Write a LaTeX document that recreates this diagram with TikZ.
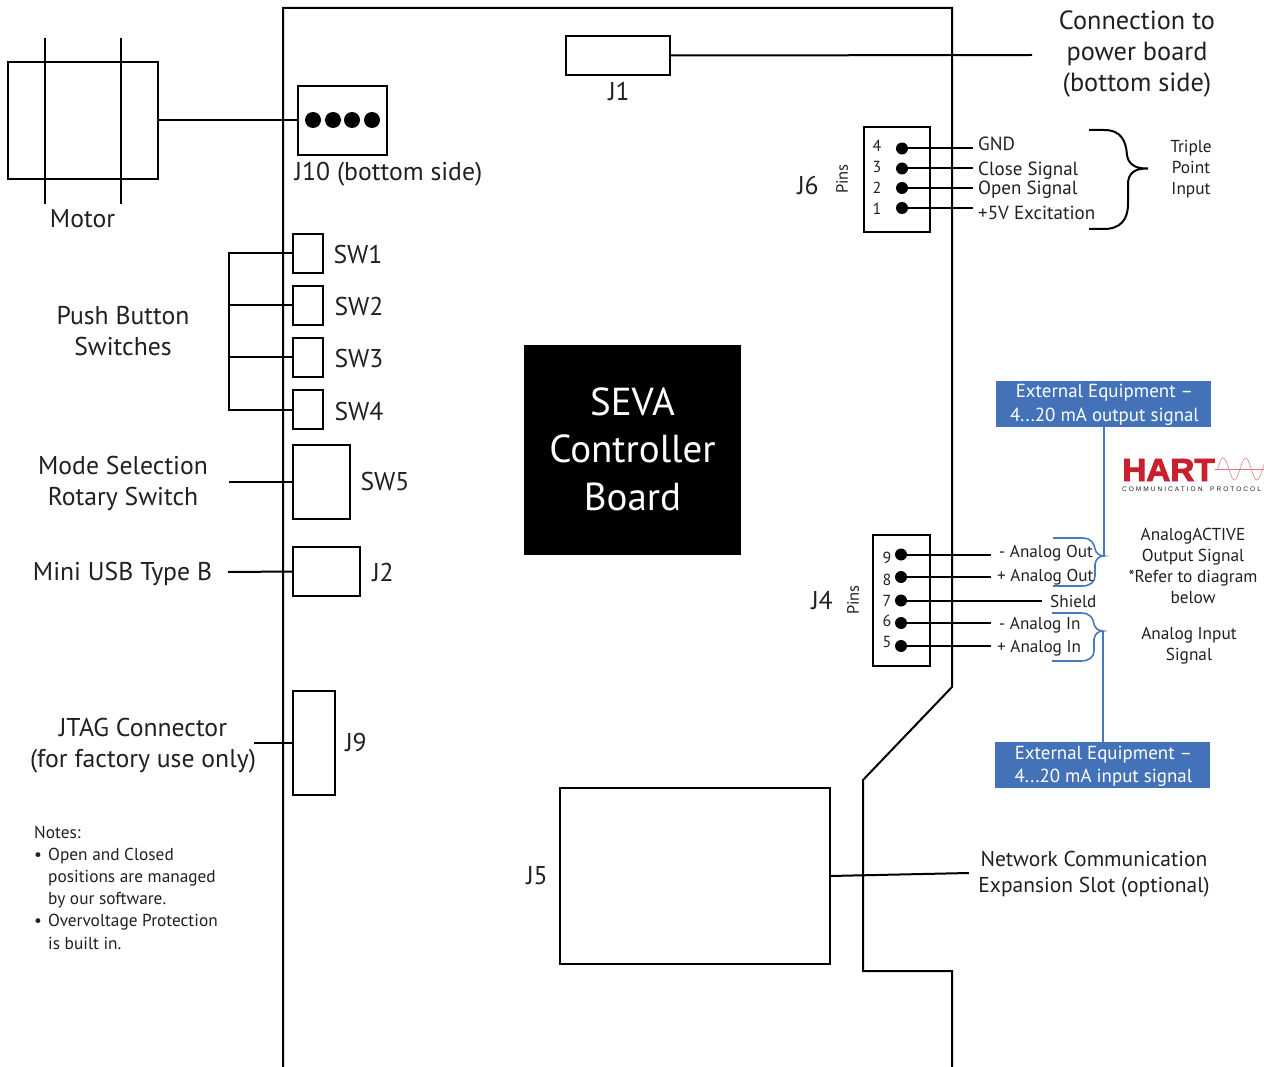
\documentclass[tikz,border=0pt]{standalone}
\usepackage{fontspec}
\setmainfont{PT Sans}
\newfontfamily\hartfont[BoldFeatures={FakeBold=3}]{Liberation Sans}
\newfontfamily\hartsubfont[LetterSpace=30]{Liberation Sans}
\definecolor{bluefill}{HTML}{4472B8}
\definecolor{bluewire}{HTML}{4A78BE}
\definecolor{hartred}{HTML}{C8202E}
\definecolor{ink}{HTML}{231F20}
\newcommand{\pbox}[5]{%
  \pgfmathsetmacro{\cxv}{(#2+#4)/2}\pgfmathsetmacro{\cyv}{(#3+#5)/2}%
  \pgfmathsetmacro{\wv}{#4-#2}\pgfmathsetmacro{\hv}{#5-#3}%
  \node[part,minimum width=\wv pt,minimum height=\hv pt] (#1) at (\cxv,\cyv) {};}
\tikzset{
  part/.style={draw=black,line width=2pt,inner sep=0,outer sep=0,rectangle},
  wire/.style={draw=black,line width=2pt},
  thinwire/.style={draw=black,line width=1.2pt},
  bluewire/.style={draw=bluewire,line width=1.6pt},
  pin/.style={circle,fill=black,inner sep=0,outer sep=0,minimum size=12pt},
  big/.style={text=ink,font=\fontsize{25.7}{31}\selectfont,align=center,inner sep=0},
  mid/.style={text=ink,font=\fontsize{19}{24}\selectfont,align=left,inner sep=0},
  small/.style={text=ink,font=\fontsize{17.3}{21}\selectfont,align=center,inner sep=0},
  anlab/.style={text=ink,font=\fontsize{17.2}{21}\selectfont,inner sep=0,anchor=west},
  pinslab/.style={text=ink,font=\fontsize{16.5}{21}\selectfont,inner sep=0,rotate=90},
  num/.style={text=ink,font=\fontsize{16}{20}\selectfont,inner sep=0},
  bluebox/.style={fill=bluefill,minimum width=215pt,minimum height=46pt,inner sep=0,outer sep=0},
  bluetext/.style={text=white,font=\fontsize{18.9}{23.5}\selectfont,align=center,inner sep=0},
}
\begin{document}
\begin{tikzpicture}[x=1pt,y=-1pt]
\useasboundingbox (0,0) rectangle (1264,1067);
% board outline
\draw[wire,line join=miter] (283,1067) -- (283,8) -- (952,8) -- (952,687) -- (863,780) -- (863,971) -- (952,971) -- (952,1067);
% motor
\pbox{motor}{8}{62}{158}{179}
\coordinate (mt1) at (45,38); \coordinate (mb1) at (45,204);
\coordinate (mt2) at (121,38); \coordinate (mb2) at (121,204);
\draw[thinwire] (mt1) -- (mb1);
\draw[thinwire] (mt2) -- (mb2);
\node[big] (motorlbl) at (82.5,219) {Motor};
% J10
\pbox{jten}{298}{86}{387}{155}
\node[pin,minimum size=16pt] (ja) at (313,120) {};
\node[pin,minimum size=16pt] (jb) at (333,120) {};
\node[pin,minimum size=16pt] (jc) at (352,120) {};
\node[pin,minimum size=16pt] (jd) at (372,120) {};
\draw[wire] (motor.east) -- (jten.west);
\node[big] (jtenlbl) at (388.5,174) {J10 (bottom side)};
% J1
\pbox{jone}{566}{36}{670}{75}
\coordinate (jonefree) at (1032,55);
\draw[wire] (jone.east) -- (jonefree);
\node[big] (jonelbl) at (619,91) {J1};
\node[big,font=\fontsize{26.3}{31}\selectfont] (power) at (1137,54) {Connection to\\power board\\(bottom side)};
% push buttons
\pbox{swa}{293}{234}{323}{273}
\pbox{swb}{293}{286}{323}{325}
\pbox{swc}{293}{338}{323}{377}
\pbox{swd}{293}{390}{323}{429}
\coordinate (busa) at (229,253.5);
\coordinate (busb) at (229,305.5);
\coordinate (busc) at (229,357.5);
\coordinate (busd) at (229,409.5);
\draw[wire,line cap=rect] (busa) -- (busd);
\draw[wire] (busa) -- (swa.west);
\draw[wire] (busb) -- (swb.west);
\draw[wire] (busc) -- (swc.west);
\draw[wire] (busd) -- (swd.west);
\node[big] (swalbl) at (358,255) {SW1};
\node[big] (swblbl) at (359,307) {SW2};
\node[big] (swclbl) at (359,359) {SW3};
\node[big] (swdlbl) at (359,412) {SW4};
\node[big] (pushlbl) at (123,331) {Push Button\\Switches};
% SW5
\pbox{swe}{293}{445}{350}{519}
\coordinate (swefree) at (229,482);
\draw[wire] (swefree) -- (swe.west);
\node[big] (swelbl) at (385,482) {SW5};
\node[big] (modelbl) at (123,483.5) {Mode Selection\\Rotary Switch};
% J2
\pbox{jtwo}{293}{547}{360}{596}
\coordinate (jtwofree) at (228,572);
\draw[wire] (jtwofree) -- (jtwo.west);
\node[big] (jtwolbl) at (383,572) {J2};
\node[big] (usblbl) at (122.5,574) {Mini USB Type B};
% J9
\pbox{jnine}{293}{691}{335}{795}
\coordinate (jninefree) at (254,743);
\draw[wire] (jninefree) -- (jnine.west);
\node[big] (jninelbl) at (356,743) {J9};
\node[big] (jtaglbl) at (143,746) {JTAG Connector\\(for factory use only)};
% notes
\node[anchor=north west,text=ink,align=left,inner sep=0,font=\fontsize{17.3}{22.2}\selectfont] (notes) at (34,825.5) {Notes:\\
\makebox[14pt][l]{•}Open and Closed\\
\makebox[14pt][l]{}positions are managed\\
\makebox[14pt][l]{}by our software.\\
\makebox[14pt][l]{•}Overvoltage Protection\\
\makebox[14pt][l]{}is built in.};
% controller
\node[fill=black,minimum width=217pt,minimum height=210pt,inner sep=0] (seva) at (632.5,450) {};
\node[text=white,font=\fontsize{39}{47.5}\selectfont,align=center,inner sep=0] (sevalbl) at (632.5,449) {SEVA\\Controller\\Board};
% J5
\pbox{jfive}{560}{788}{830}{964}
\coordinate (jfiveout) at (830,876);
\coordinate (jfivefree) at (969,873);
\draw[wire] (jfiveout) -- (jfivefree);
\node[big] (jfivelbl) at (537,876) {J5};
\node[big,font=\fontsize{21.5}{26.5}\selectfont] (netlbl) at (1094,874) {Network Communication\\Expansion Slot (optional)};
% J6
\pbox{jsix}{864}{127}{930}{232}
\node[big] (jsixlbl) at (808,186) {J6};
\node[pinslab] (pinsa) at (842,179) {Pins};
\foreach \n/\y/\ty/\lab/\ly in {4/148.5/146/GND/144,3/168.5/167/Close Signal/171,2/188/188/Open Signal/190,1/208/209/+5V Excitation/213}{
  \node[pin] (jsp\n) at (902,\y) {};
  \coordinate (jsf\n) at (973,\y);
  \draw[wire] (jsp\n.center) -- (jsf\n);
  \node[num] (jsn\n) at (877,\ty) {\n};
  \node[mid,anchor=west] (jsl\n) at (978,\ly) {\lab};
}
\draw[wire,line cap=butt] (1089,130) -- (1104,130) .. controls (1122,130) and (1126,142) .. (1127,155) .. controls (1128,163) and (1134,169) .. (1148,168.5) .. controls (1134,168) and (1128,174) .. (1128,184) -- (1128,204) .. controls (1128,220) and (1120,229) .. (1104,229) -- (1089,229);
\node[small] (triple) at (1191,169) {Triple\\Point\\Input};
% J4
\pbox{jfour}{873}{535}{930}{666}
\node[big] (jfourlbl) at (822,600) {J4};
\node[pinslab] (pinsb) at (853,600) {Pins};
\foreach \n/\y/\ty/\fx in {9/554.5/558/991,8/577/580/991,7/600.5/601/1042,6/623/621/991,5/646/642/991}{
  \node[pin] (jfp\n) at (901,\y) {};
  \coordinate (jff\n) at (\fx,\y);
  \draw[wire] (jfp\n.center) -- (jff\n);
  \node[num] (jfn\n) at (887,\ty) {\n};
}
\node[anlab] (jla) at (999,553) {- Analog Out};
\node[anlab] (jlb) at (997,577) {+ Analog Out};
\node[anlab] (jlc) at (1050,601) {Shield};
\node[anlab] (jld) at (999,625) {- Analog In};
\node[anlab] (jle) at (997,648) {+ Analog In};
% blue boxes and braces
\node[bluebox] (extout) at (1103.5,404) {};
\node[bluetext] (extouttext) at (1104.5,405) {External Equipment –\\4...20 mA output signal};
\node[bluebox] (extin) at (1102.5,765) {};
\node[bluetext] (extintext) at (1103.5,766.5) {External Equipment –\\4...20 mA input signal};
\coordinate (tipa) at (1104,556);
\coordinate (tipb) at (1103,631);
\draw[bluewire] (extout.south -| tipa) -- (tipa);
\draw[bluewire] (extin.north -| tipb) -- (tipb);
\draw[bluewire] (1053,538) -- (1082,538) .. controls (1092,538) and (1094,544) .. (1095,549) .. controls (1096,553) and (1099,556) .. (tipa) .. controls (1099,556) and (1096,559) .. (1095,564) -- (1095,576) .. controls (1095,582) and (1090,586) .. (1082,586) -- (1053,586);
\draw[bluewire] (1052,613) -- (1081,613) .. controls (1091,613) and (1093,619) .. (1094,624) .. controls (1095,628) and (1098,631) .. (tipb) .. controls (1098,631) and (1095,634) .. (1094,639) -- (1094,651) .. controls (1094,657) and (1089,661) .. (1081,661) -- (1052,661);
\node[small] (activelbl) at (1193,565.5) {AnalogACTIVE\\Output Signal\\*Refer to diagram\\below};
\node[small] (inputlbl) at (1189,646) {Analog Input\\Signal};
% HART logo
\coordinate (wavea) at (1215,469);
\coordinate (waveb) at (1264,469);
\draw[hartred!60,line width=0.5pt] (wavea) -- (waveb);
\begin{scope}[shift={(1217.5,469)}]
\draw[hartred!55,line width=0.6pt,domain=0:46.5,samples=60,smooth,variable=\t] plot ({\t},{-11*sin(16*\t)});
\end{scope}
\node[inner sep=0,text=hartred,xscale=1.04,font=\hartfont\bfseries\fontsize{32}{32}\selectfont] (hart) at (1168.5,470) {HART};
\node[inner sep=0,text=ink,font=\hartsubfont\fontsize{6.6}{8}\selectfont] (hartsub) at (1191.5,489) {COMMUNICATION\ \ PROTOCOL};
\end{tikzpicture}
\end{document}
